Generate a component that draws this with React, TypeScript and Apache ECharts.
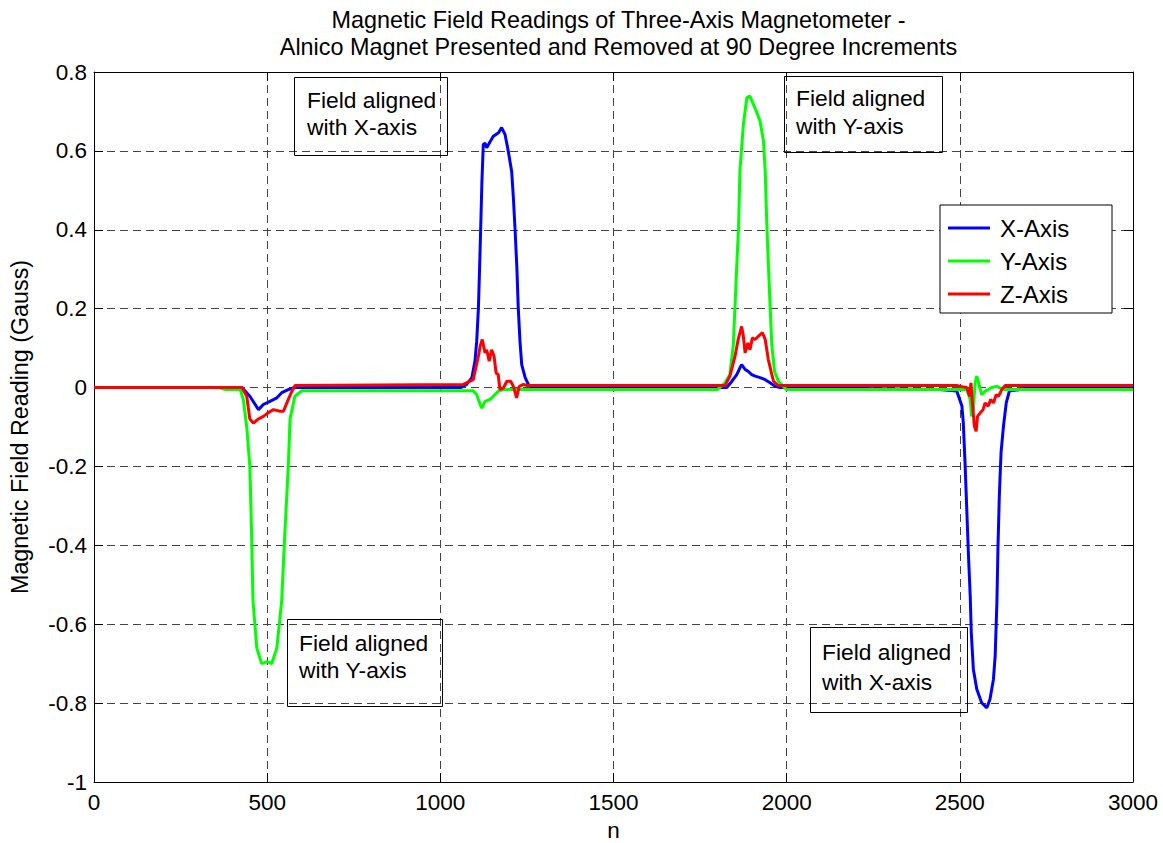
import React, { useEffect, useRef } from "react";
import * as echarts from "echarts";

const FONT = '"Liberation Sans", Arial, sans-serif';

const titleLines = [
  "Magnetic Field Readings of Three-Axis Magnetometer -",
  "Alnico Magnet Presented and Removed at 90 Degree Increments",
];
const xAxisName = "n";
const yAxisName = "Magnetic Field Reading (Gauss)";
const seriesNames = ["X-Axis", "Y-Axis", "Z-Axis"];
const seriesColors = ["#0000ff", "#00ff00", "#ff0000"];

// [n, Gauss]
const xAxisReadings: [number, number][] = [
  [0, 0], [420, 0], [427, 0], [450, -0.022], [475, -0.056], [489, -0.043], [508, -0.035],
  [528, -0.026], [542, -0.013], [561, -0.005], [580, 0], [1060, 0], [1076, 0.008],
  [1091, 0.025], [1100, 0.067], [1105, 0.117], [1110, 0.202], [1115, 0.354], [1120, 0.52],
  [1124, 0.616], [1129, 0.62], [1134, 0.608], [1144, 0.624], [1153, 0.637], [1168, 0.646],
  [1177, 0.659], [1187, 0.641], [1196, 0.6], [1206, 0.548], [1211, 0.48], [1216, 0.397],
  [1221, 0.303], [1225, 0.202], [1230, 0.117], [1235, 0.058], [1245, 0.025], [1254, 0.008],
  [1265, 0], [1820, 0], [1827, 0], [1842, 0.016], [1856, 0.033], [1865, 0.05], [1870, 0.058],
  [1880, 0.046], [1889, 0.041], [1899, 0.033], [1909, 0.029], [1923, 0.025], [1938, 0.02],
  [1952, 0.012], [1967, 0.003], [1981, 0], [2440, -0.005], [2491, -0.009], [2506, -0.047],
  [2510, -0.089], [2515, -0.19], [2520, -0.308], [2525, -0.427], [2530, -0.528],
  [2533, -0.621], [2539, -0.714], [2549, -0.765], [2563, -0.799], [2578, -0.812],
  [2587, -0.79], [2597, -0.74], [2602, -0.681], [2607, -0.546], [2610, -0.41], [2614, -0.275],
  [2619, -0.165], [2626, -0.098], [2634, -0.039], [2643, -0.009], [2674, -0.005], [2700, 0],
  [3000, 0],
];

const yAxisReadings: [number, number][] = [
  [0, 0], [360, 0], [380, -0.005], [422, -0.005], [431, -0.03], [441, -0.1], [450, -0.2],
  [455, -0.37], [459, -0.54], [470, -0.66], [484, -0.7], [500, -0.695], [513, -0.7],
  [528, -0.66], [542, -0.54], [551, -0.37], [561, -0.2], [566, -0.08], [580, -0.022],
  [600, -0.008], [1095, -0.008], [1105, -0.018], [1115, -0.043], [1120, -0.052],
  [1129, -0.035], [1144, -0.03], [1153, -0.022], [1168, -0.009], [1182, -0.005],
  [1800, -0.005], [1822, 0.012], [1836, 0.033], [1846, 0.109], [1851, 0.21], [1856, 0.312],
  [1861, 0.405], [1865, 0.549], [1875, 0.667], [1885, 0.735], [1894, 0.739], [1904, 0.718],
  [1914, 0.697], [1923, 0.676], [1933, 0.625], [1938, 0.549], [1943, 0.405], [1948, 0.295],
  [1952, 0.21], [1957, 0.109], [1965, 0.041], [1976, 0.016], [1990, 0.003], [2000, -0.005],
  [2520, -0.005], [2530, -0.03], [2534, -0.073], [2539, -0.056], [2544, 0.012],
  [2549, 0.029], [2557, 0.003], [2563, -0.018], [2573, -0.009], [2582, -0.005], [2592, 0],
  [2607, 0.003], [2616, -0.001], [2630, -0.005], [3000, -0.005],
];

const zAxisReadings: [number, number][] = [
  [0, 0], [427, 0], [441, -0.022], [450, -0.08], [460, -0.09], [474, -0.08], [489, -0.073],
  [503, -0.064], [518, -0.056], [537, -0.06], [547, -0.06], [561, -0.03], [571, -0.01],
  [580, 0.005], [1066, 0.008], [1095, 0.02], [1110, 0.08], [1115, 0.105], [1121, 0.122],
  [1129, 0.088], [1134, 0.096], [1141, 0.067], [1148, 0.096], [1155, 0.08], [1161, 0.037],
  [1167, 0.033], [1172, -0.005], [1182, -0.001], [1192, 0.016], [1203, 0.016], [1211, 0.003],
  [1220, -0.026], [1228, 0.003], [1240, 0.008], [1250, 0.005], [1822, 0.005], [1836, 0.029],
  [1851, 0.08], [1860, 0.122], [1870, 0.155], [1875, 0.13], [1880, 0.088], [1888, 0.113],
  [1894, 0.096], [1901, 0.126], [1909, 0.122], [1918, 0.13], [1930, 0.139], [1938, 0.122],
  [1947, 0.071], [1955, 0.041], [1962, 0.016], [1976, 0.005], [2491, 0.005], [2501, 0.003],
  [2520, 0], [2528, -0.022], [2532, 0.012], [2537, -0.047], [2542, -0.098], [2547, -0.111],
  [2551, -0.073], [2559, -0.064], [2567, -0.056], [2573, -0.039], [2582, -0.047],
  [2589, -0.03], [2597, -0.039], [2605, -0.018], [2612, -0.022], [2621, -0.005],
  [2631, 0.005], [3000, 0.005],
];

const annotationTexts = [
  "Field aligned\nwith X-axis",
  "Field aligned\nwith Y-axis",
  "Field aligned\nwith Y-axis",
  "Field aligned\nwith X-axis",
];

export default function App() {
  const ref = useRef<HTMLDivElement>(null);
  useEffect(() => {
    if (!ref.current) return;
    const chart = echarts.init(ref.current, undefined, { renderer: "svg" });
    const allData = [xAxisReadings, yAxisReadings, zAxisReadings];
    const FS = 22.5;
    const boxes = [
      { x: 294, y: 77, w: 153, h: 78, tx: 307, ty: 86, lh: 27 },
      { x: 784, y: 76, w: 158, h: 76, tx: 796, ty: 84, lh: 28 },
      { x: 287, y: 619, w: 155, h: 87, tx: 299, ty: 629, lh: 27 },
      { x: 810, y: 627, w: 157, h: 85, tx: 822, ty: 637, lh: 30 },
    ];
    const graphic: any[] = [];
    boxes.forEach((b, i) => {
      graphic.push({
        type: "rect",
        z: 100,
        shape: { x: b.x + 0.5, y: b.y + 0.5, width: b.w, height: b.h },
        style: { fill: "none", stroke: "#000", lineWidth: 1 },
      });
      graphic.push({
        type: "text",
        z: 101,
        x: b.tx,
        y: b.ty,
        style: {
          text: annotationTexts[i],
          fontSize: 22.8,
          fontFamily: FONT,
          fill: "#000",
          lineHeight: b.lh,
        },
      });
    });
    const axisCommon = {
      axisLine: { show: true, onZero: false, lineStyle: { color: "#000", width: 1 } },
      axisTick: { show: true, inside: true, length: 9, lineStyle: { color: "#000" } },
    };
    const option: any = {
      animation: false,
      backgroundColor: "#fff",
      title: {
        text: titleLines.join("\n"),
        left: 613.5,
        textAlign: "center",
        top: 1,
        textStyle: {
          fontFamily: FONT,
          fontSize: 23.4,
          fontWeight: "normal",
          color: "#000",
          lineHeight: 27,
        },
      },
      grid: { left: 94, right: 30, top: 72, bottom: 61, outerBoundsMode: "none", containLabel: false },
      legend: {
        orient: "vertical",
        left: 940,
        top: 205,
        backgroundColor: "#fff",
        borderColor: "#000",
        borderWidth: 1,
        borderRadius: 0,
        padding: [11, 12, 7, 8],
        itemWidth: 42,
        itemHeight: 3,
        itemGap: 9,
        icon: "rect",
        textStyle: {
          fontFamily: FONT,
          fontSize: 24,
          color: "#000",
          lineHeight: 22,
          width: 100,
          padding: [0, 0, 0, 5],
        },
        data: seriesNames,
      },
      xAxis: [
        {
          type: "value",
          min: 0,
          max: 3000,
          interval: 500,
          position: "bottom",
          name: xAxisName,
          nameLocation: "middle",
          nameGap: 32,
          nameTextStyle: { fontFamily: FONT, fontSize: FS, color: "#000" },
          ...axisCommon,
          axisLabel: {
            color: "#000",
            fontSize: FS,
            fontFamily: FONT,
            margin: 9,
            formatter: (v: number) => String(v),
          },
          splitLine: { show: true, lineStyle: { color: "#444", type: [8, 5], width: 1 } },
        },
        {
          type: "value",
          min: 0,
          max: 3000,
          interval: 500,
          position: "top",
          ...axisCommon,
          axisLabel: { show: false },
          splitLine: { show: false },
        },
      ],
      yAxis: [
        {
          type: "value",
          min: -1,
          max: 0.8,
          interval: 0.2,
          position: "left",
          name: yAxisName,
          nameLocation: "middle",
          nameGap: 63,
          nameTextStyle: { fontFamily: FONT, fontSize: 23.3, color: "#000" },
          ...axisCommon,
          axisLabel: {
            color: "#000",
            fontSize: FS,
            fontFamily: FONT,
            margin: 7,
            formatter: (v: number) => String(Math.round(v * 10) / 10),
          },
          splitLine: { show: true, lineStyle: { color: "#444", type: [8, 5], width: 1 } },
        },
        {
          type: "value",
          min: -1,
          max: 0.8,
          interval: 0.2,
          position: "right",
          ...axisCommon,
          axisLabel: { show: false },
          splitLine: { show: false },
        },
      ],
      series: allData.map((d, i) => ({
        name: seriesNames[i],
        type: "line",
        xAxisIndex: 0,
        yAxisIndex: 0,
        data: d,
        symbol: "none",
        showSymbol: false,
        z: 3 + i,
        lineStyle: { color: seriesColors[i], width: 3 },
        itemStyle: { color: seriesColors[i] },
      })),
      graphic,
    };
    chart.setOption(option);
    return () => chart.dispose();
  }, []);
  return (
    <div
      ref={ref}
      style={{ position: "fixed", left: 0, top: 0, width: 1163, height: 843, background: "#fff" }}
    />
  );
}
